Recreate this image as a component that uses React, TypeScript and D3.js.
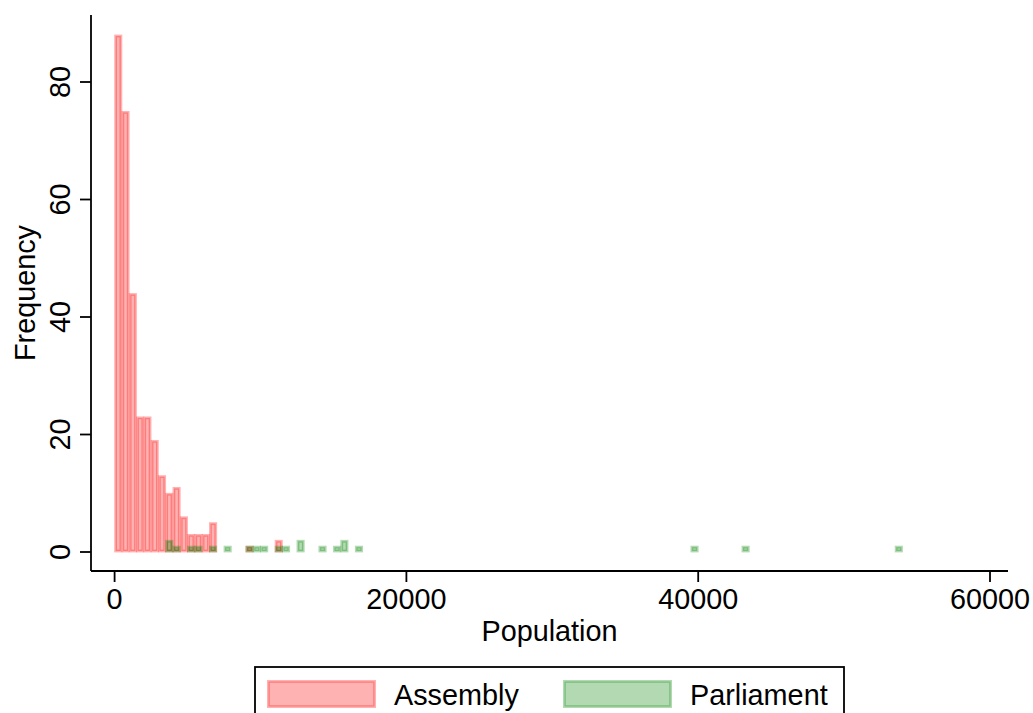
import React, { useEffect, useRef } from 'react';
import * as d3 from 'd3';

// histogram bins (start of bin, width 500) and frequencies
const binWidth = 500;
const assemblyBins = [0, 500, 1000, 1500, 2000, 2500, 3000, 3500, 4000, 4500, 5000, 5500, 6000, 6500, 9000, 11000];
const assemblyCounts = [88, 75, 44, 23, 23, 19, 13, 10, 11, 6, 3, 3, 3, 5, 1, 2];
const parliamentBins = [3500, 4000, 5000, 5500, 6500, 7500, 9000, 9500, 10000, 11000, 11500, 12500, 14000, 15000, 15500, 16500, 39500, 43000, 53500];
const parliamentCounts = [2, 1, 1, 1, 1, 1, 1, 1, 1, 1, 1, 2, 1, 1, 2, 1, 1, 1, 1];
const xTicks = [0, 20000, 40000, 60000];
const yTicks = [0, 20, 40, 60, 80];
const seriesNames = ['Assembly', 'Parliament'];
const seriesColors = ['rgba(255,0,0,0.3)', 'rgba(0,128,0,0.3)'];

const W = 1033;
const H = 713;
const FONT = '"Liberation Sans", Arial, sans-serif';
const FS = '28.8px';

const App: React.FC = () => {
  const svgRef = useRef<SVGSVGElement>(null);

  useEffect(() => {
    const svg = d3.select(svgRef.current);
    svg.selectAll('*').remove();

    const plot = { left: 91, right: 1008, top: 15, bottom: 571 };
    const x = d3.scaleLinear().domain([0, 60000]).range([114.6, 990]);
    const y = d3.scaleLinear().domain([0, 80]).range([552, 82]);
    const sw = 2.8;

    const drawBars = (bins: number[], counts: number[], color: string) => {
      svg
        .append('g')
        .selectAll('rect')
        .data(bins.map((b, i) => ({ b, c: counts[i] })))
        .join('rect')
        .attr('x', (d) => x(d.b) + sw / 2 - 0.4)
        .attr('width', (d) => x(d.b + binWidth) - x(d.b) - sw + 0.8)
        .attr('y', (d) => y(d.c) + sw / 2 - 0.4)
        .attr('height', (d) => y(0) - y(d.c) - sw + 0.8)
        .attr('fill', color)
        .attr('stroke', color)
        .attr('stroke-width', sw);
    };

    drawBars(assemblyBins, assemblyCounts, seriesColors[0]);
    drawBars(parliamentBins, parliamentCounts, seriesColors[1]);

    // axes
    const axes = svg.append('g').attr('stroke', '#000').attr('stroke-width', 1.8);
    axes.append('line').attr('x1', plot.left).attr('x2', plot.left).attr('y1', plot.top).attr('y2', plot.bottom);
    axes.append('line').attr('x1', plot.left).attr('x2', plot.right).attr('y1', plot.bottom).attr('y2', plot.bottom);

    yTicks.forEach((t) => {
      axes.append('line').attr('x1', plot.left - 11).attr('x2', plot.left).attr('y1', y(t)).attr('y2', y(t));
      svg
        .append('text')
        .attr('transform', `translate(70, ${y(t)}) rotate(-90)`)
        .attr('text-anchor', 'middle')
        .style('font-family', FONT)
        .style('font-size', FS)
        .text(t);
    });

    xTicks.forEach((t) => {
      axes.append('line').attr('x1', x(t)).attr('x2', x(t)).attr('y1', plot.bottom).attr('y2', plot.bottom + 11);
      svg
        .append('text')
        .attr('x', x(t))
        .attr('y', 609)
        .attr('text-anchor', 'middle')
        .style('font-family', FONT)
        .style('font-size', FS)
        .text(t);
    });

    svg
      .append('text')
      .attr('x', (plot.left + plot.right) / 2)
      .attr('y', 641)
      .attr('text-anchor', 'middle')
      .style('font-family', FONT)
      .style('font-size', FS)
      .text('Population');

    svg
      .append('text')
      .attr('transform', `translate(35, ${(plot.top + plot.bottom) / 2}) rotate(-90)`)
      .attr('text-anchor', 'middle')
      .style('font-family', FONT)
      .style('font-size', FS)
      .text('Frequency');

    // legend
    const legend = svg.append('g');
    legend
      .append('rect')
      .attr('x', 255)
      .attr('y', 667)
      .attr('width', 589)
      .attr('height', 70)
      .attr('fill', 'none')
      .attr('stroke', '#000')
      .attr('stroke-width', 1.8);

    const swatchX = [267, 563];
    seriesNames.forEach((name, i) => {
      legend
        .append('rect')
        .attr('x', swatchX[i] + sw / 2)
        .attr('y', 680 + sw / 2)
        .attr('width', 109 - sw)
        .attr('height', 28 - sw)
        .attr('fill', seriesColors[i])
        .attr('stroke', seriesColors[i])
        .attr('stroke-width', sw);
      legend
        .append('text')
        .attr('x', swatchX[i] + 127)
        .attr('y', 705)
        .style('font-family', FONT)
        .style('font-size', FS)
        .text(name);
    });
  }, []);

  return (
    <svg
      ref={svgRef}
      width={W}
      height={H}
      style={{ position: 'absolute', left: 0, top: 0, background: '#fff' }}
    ></svg>
  );
};

export default App;
